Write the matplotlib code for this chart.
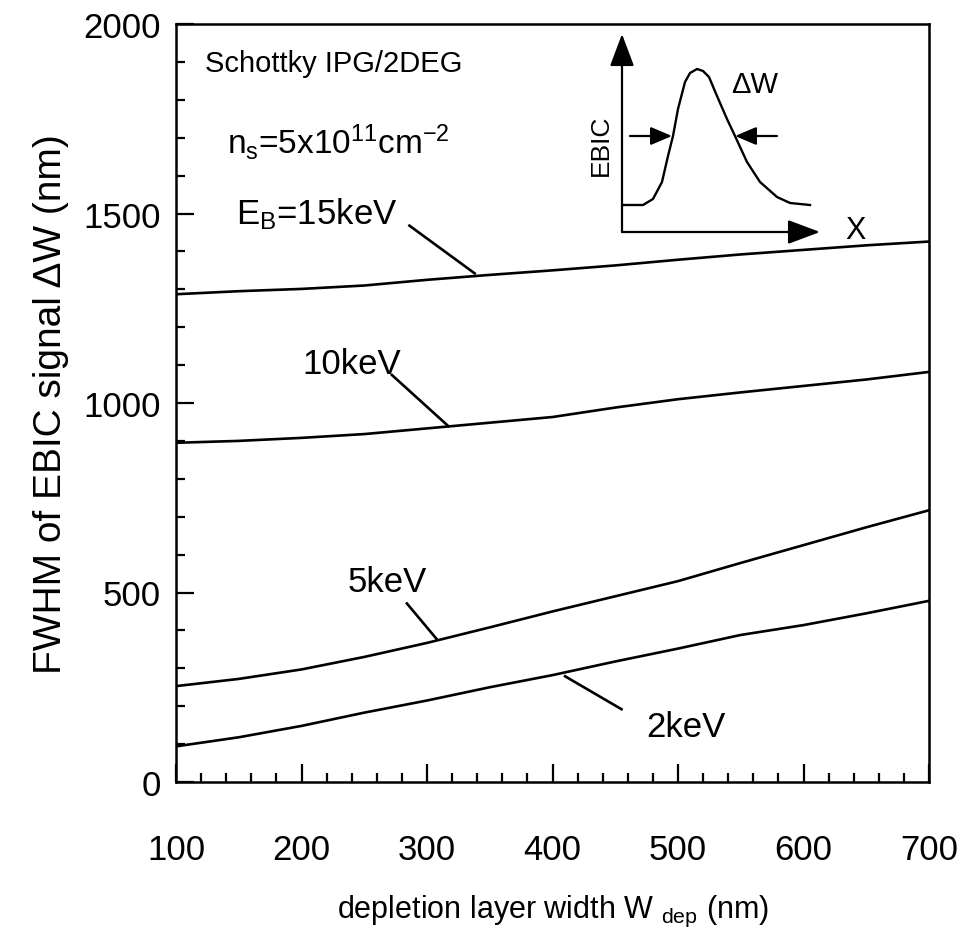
import numpy as np
import matplotlib
matplotlib.use("Agg")
import matplotlib.pyplot as plt
from matplotlib.ticker import MultipleLocator

plt.rcParams['font.family'] = ['Liberation Sans', 'DejaVu Sans']
plt.rcParams['mathtext.fontset'] = 'custom'
plt.rcParams['mathtext.rm'] = 'Liberation Sans'
plt.rcParams['mathtext.it'] = 'Liberation Sans'

# depletion layer width (nm) and FWHM of EBIC signal (nm) for each beam energy
w_dep = [100, 150, 200, 250, 300, 350, 400, 450, 500, 550, 600, 650, 700]
fwhm_15kev = [1287, 1295, 1301, 1310, 1325, 1338, 1350, 1363, 1378, 1392, 1404, 1416, 1426]
fwhm_10kev = [895, 900, 908, 918, 933, 948, 963, 988, 1010, 1028, 1045, 1062, 1082]
fwhm_5kev = [253, 272, 297, 330, 367, 408, 450, 490, 530, 578, 625, 672, 717]
fwhm_2kev = [94, 118, 148, 183, 215, 250, 282, 318, 352, 388, 414, 445, 478]

# sketch of an EBIC line profile for the inset
inset_x = [0, 21, 31, 40, 46, 51, 56, 63, 68, 75, 81, 87, 95, 105, 113, 125, 138, 155, 168, 188]
inset_y = [27, 27, 33, 50, 76, 96, 123, 150, 159, 163, 161, 155, 136, 113, 96, 70, 50, 35, 29, 27]

fig = plt.figure(figsize=(9.65, 9.37), dpi=100)
ax = fig.add_axes([176/965, 1 - 783/937, (929 - 176)/965, (783 - 25)/937])

lw = 1.9
for vals in [fwhm_15kev, fwhm_10kev, fwhm_5kev, fwhm_2kev]:
    ax.plot(w_dep, vals, color='black', lw=lw)

ax.set_xlim(100, 700)
ax.set_ylim(0, 2000)
ax.xaxis.set_major_locator(MultipleLocator(100))
ax.xaxis.set_minor_locator(MultipleLocator(20))
ax.yaxis.set_major_locator(MultipleLocator(500))
ax.yaxis.set_minor_locator(MultipleLocator(100))
ax.tick_params(which='both', direction='in', top=False, right=False,
               width=1.6, labelsize=25, colors='black')
ax.tick_params(which='major', length=13)
ax.tick_params(which='minor', length=6.5)
ax.tick_params(axis='x', which='major', pad=37)
ax.tick_params(axis='y', which='major', pad=11)
for s in ax.spines.values():
    s.set_linewidth(1.8)

ax.set_xlabel(r'depletion layer width W $_{\mathregular{dep}}$ (nm)', fontsize=22, labelpad=19)
ax.set_ylabel('FWHM of EBIC signal ΔW (nm)', fontsize=28, labelpad=10)

# curve labels with leader lines
ax.text(123, 1897, 'Schottky IPG/2DEG', fontsize=21, va='center', ha='left')
ax.text(141, 1692, r'n$_\mathregular{s}$=5x10$^\mathregular{11}$cm$^\mathregular{-2}$',
        fontsize=24, va='center', ha='left')
fs = 25
ax.text(148, 1500, r'E$_\mathregular{B}$=15keV', fontsize=fs, va='center', ha='left')
ax.plot([286, 338], [1468, 1342], color='black', lw=lw)
ax.text(201, 1105, '10keV', fontsize=fs, va='center', ha='left')
ax.plot([272, 317], [1074, 939], color='black', lw=lw)
ax.text(237, 529, '5keV', fontsize=fs, va='center', ha='left')
ax.plot([284, 308], [471, 376], color='black', lw=lw)
ax.text(475, 147, '2keV', fontsize=fs, va='center', ha='left')
ax.plot([410, 455], [279, 192], color='black', lw=lw)

# inset
ins = fig.add_axes([622/965, 1 - 233/937, 198/965, 198/937])
ins.set_xlim(0, 198)
ins.set_ylim(0, 198)
ins.axis('off')
ins.plot(inset_x, inset_y, color='black', lw=1.7)
big = dict(arrowstyle='-|>,head_length=2.0,head_width=0.75', color='black',
           lw=1.6, mutation_scale=10, shrinkA=0, shrinkB=0)
ins.annotate('', xy=(198, 0), xytext=(0, 0), arrowprops=big, annotation_clip=False)
ins.annotate('', xy=(0, 198), xytext=(0, 0), arrowprops=big, annotation_clip=False)
small = dict(arrowstyle='-|>,head_length=1.3,head_width=0.55', color='black',
             lw=1.6, mutation_scale=10, shrinkA=0, shrinkB=0)
ins.annotate('', xy=(50, 96), xytext=(8, 96), arrowprops=small)
ins.annotate('', xy=(113, 96), xytext=(155, 96), arrowprops=small)
ins.text(133, 148, 'ΔW', fontsize=21, ha='center', va='center')
ins.text(-21, 88, 'EBIC', fontsize=19, ha='center', va='center', rotation=90)
ins.text(233, 2, 'X', fontsize=22, ha='center', va='center')

fig.savefig('out.png', dpi=100)
